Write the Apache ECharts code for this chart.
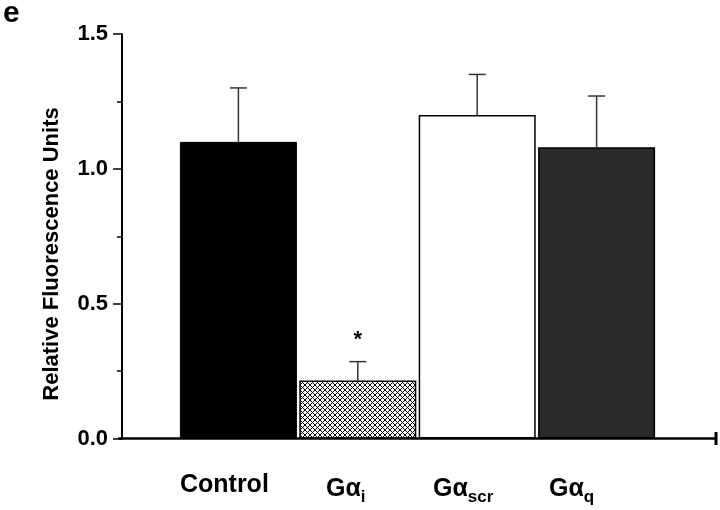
<!DOCTYPE html>
<html><head><meta charset="utf-8">
<script src="https://cdn.jsdelivr.net/npm/echarts@6/dist/echarts.min.js"></script>
<style>html,body{margin:0;padding:0;background:#fff}#c{width:720px;height:510px}</style>
</head><body><div id="c"></div>
<script>
// ---- data ----
const catBase = ['Control', 'G\u03b1', 'G\u03b1', 'G\u03b1'];
const catSub = ['', 'i', 'scr', 'q'];
const catPos = [1, 2, 3, 4];
const means = [1.10, 0.215, 1.20, 1.08];
const errors = [0.20, 0.07, 0.15, 0.19];
const sigMarks = ['', '*', '', ''];
const yTicks = [0, 0.5, 1.0, 1.5];

const FONT = '"Liberation Sans", Arial, sans-serif';
// extra right padding (px) for each x label, shifts it left of bar centre
const labelShift = [28, 24, 28, 50];

// crosshatch pattern
const pc = document.createElement('canvas');
pc.width = 5; pc.height = 5;
const g = pc.getContext('2d');
g.fillStyle = '#fff'; g.fillRect(0, 0, 5, 5);
g.strokeStyle = '#000'; g.lineWidth = 1;
g.beginPath();
g.moveTo(-1, -1); g.lineTo(6, 6);
g.moveTo(6, -1); g.lineTo(-1, 6);
g.stroke();

const barStyles = [
  { color: '#000', borderColor: '#000', borderWidth: 1 },
  { color: { image: pc, repeat: 'repeat' }, borderColor: '#000', borderWidth: 1.5 },
  { color: '#fff', borderColor: '#000', borderWidth: 1.5 },
  { color: '#2b2b2b', borderColor: '#000', borderWidth: 1.5 }
];

const barData = catPos.map((x, i) => ({ value: [x, means[i]], itemStyle: barStyles[i] }));
const errData = catPos.map((x, i) => [x, means[i], errors[i], i]);

const rich = {
  b: { fontFamily: FONT, fontWeight: 'bold', fontSize: 25, color: '#000' },
  s: { fontFamily: FONT, fontWeight: 'bold', fontSize: 17, color: '#000', padding: [16, 0, 0, 0] }
};
labelShift.forEach((w, i) => { rich['p' + i] = { width: w }; });

const chart = echarts.init(document.getElementById('c'));
chart.setOption({
  animation: false,
  backgroundColor: '#fff',
  grid: { left: 119, right: 4, top: 34, bottom: 71.5 },
  xAxis: {
    type: 'value', min: 0, max: 5, interval: 1,
    splitLine: { show: false },
    axisTick: { show: false },
    axisLine: { lineStyle: { color: '#000', width: 2.5 }, symbol: ['none', 'rect'], symbolSize: [13, 3], symbolOffset: [0, 0] },
    axisLabel: {
      margin: 34,
      formatter: function (v) {
        const i = catPos.indexOf(v);
        if (i < 0) return '';
        return '{b|' + catBase[i] + '}' + (catSub[i] ? '{s|' + catSub[i] + '}' : '') + '{p' + i + '|}';
      },
      rich: rich
    }
  },
  yAxis: {
    type: 'value', min: yTicks[0], max: yTicks[yTicks.length - 1], interval: 0.5,
    offset: -3,
    splitLine: { show: false },
    axisLine: { show: true, lineStyle: { color: '#000', width: 2 } },
    axisTick: { show: true, length: 9, lineStyle: { color: '#000', width: 1.5 } },
    minorTick: { show: true, splitNumber: 2, length: 5, lineStyle: { color: '#000', width: 1.5 } },
    minorSplitLine: { show: false },
    axisLabel: {
      margin: 14, color: '#000', fontFamily: FONT, fontWeight: 'bold', fontSize: 22,
      formatter: v => v.toFixed(1)
    }
  },
  graphic: [
    { type: 'text', left: 3, top: -1, style: { text: 'e', font: 'bold 30px ' + FONT, fill: '#000' } },
    { type: 'text', x: 52, y: 254, rotation: Math.PI / 2,
      style: { text: 'Relative Fluorescence Units', font: 'bold 22px ' + FONT, fill: '#000', textAlign: 'center', textVerticalAlign: 'middle' } }
  ],
  series: [
    { type: 'bar', data: barData, barWidth: 117, z: 2 },
    {
      type: 'custom', z: 3, data: errData,
      renderItem: function (params, api) {
        const x = api.value(0), m = api.value(1), e = api.value(2), idx = api.value(3);
        const p0 = api.coord([x, m]);
        const p1 = api.coord([x, m + e]);
        const st = { stroke: '#333', lineWidth: 1.5 };
        const children = [
          { type: 'line', shape: { x1: p0[0], y1: p0[1], x2: p1[0], y2: p1[1] }, style: st },
          { type: 'line', shape: { x1: p1[0] - 8.5, y1: p1[1], x2: p1[0] + 8.5, y2: p1[1] }, style: st }
        ];
        if (sigMarks[idx]) {
          children.push({ type: 'text', x: p1[0], y: p1[1] - 11,
            style: { text: sigMarks[idx], font: 'bold 22px ' + FONT, fill: '#000', textAlign: 'center', textVerticalAlign: 'bottom' } });
        }
        return { type: 'group', children: children };
      }
    }
  ]
});
</script></body></html>
